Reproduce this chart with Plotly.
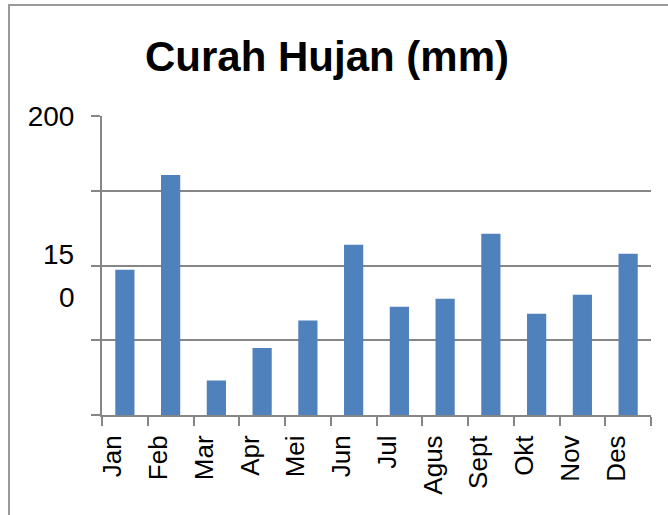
import plotly.graph_objects as go

months = ["Jan", "Feb", "Mar", "Apr", "Mei", "Jun", "Jul", "Agus", "Sept", "Okt", "Nov", "Des"]
rainfall = [148.6, 180.3, 111.5, 122.4, 131.6, 156.9, 136.2, 138.9, 160.6, 133.9, 140.2, 153.9]
y_tickvals = [100, 125, 150, 175, 200]
y_ticktext = ["", "", "", "", "200"]
wrapped_label_parts = ["15", "0"]

W, H = 668, 515
L, R, T, B = 102, 17, 116, 100

fig = go.Figure(go.Bar(x=months, y=rainfall, marker_color="#4F81BD", marker_line_width=0))

pw = W - L - R
ph = H - T - B

annotations = [
    dict(text=wrapped_label_parts[0], xref="paper", yref="paper", x=(76 - L) / pw, xanchor="right",
         y=(H - B - 254) / ph, yanchor="middle", showarrow=False, font=dict(size=28)),
    dict(text=wrapped_label_parts[1], xref="paper", yref="paper", x=(77 - L) / pw, xanchor="right",
         y=(H - B - 297) / ph, yanchor="middle", showarrow=False, font=dict(size=28)),
]

fig.update_layout(
    width=W, height=H,
    margin=dict(l=L, r=R, t=T, b=B, autoexpand=False),
    paper_bgcolor="white", plot_bgcolor="white",
    bargap=0.58,
    showlegend=False,
    font=dict(family="Liberation Sans", color="black"),
    title=dict(text="<b>Curah Hujan (mm)</b>", x=327 / W, xanchor="center",
               y=1 - 56 / H, yanchor="middle", font=dict(size=42, family="Liberation Sans")),
    xaxis=dict(type="category", tickson="boundaries", ticks="outside", ticklen=9,
               tickcolor="#868686", tickwidth=2, showline=True, linecolor="#868686", linewidth=2,
               tickangle=-90, tickfont=dict(size=26), showgrid=False, ticklabelstandoff=8,
               ticklabelshift=-12),
    yaxis=dict(range=[100, 200], tickvals=y_tickvals, ticktext=y_ticktext, ticks="outside",
               ticklen=9, tickcolor="#868686", tickwidth=2, showline=True, linecolor="#868686",
               linewidth=2, showgrid=True, gridcolor="#868686", gridwidth=2,
               tickfont=dict(size=28), ticklabelstandoff=11, zeroline=False),
    annotations=annotations,
    shapes=[dict(type="rect", xref="paper", yref="paper",
                 x0=(9 - L) / pw, x1=(W + 20 - L) / pw,
                 y0=(H - B - (H + 20)) / ph, y1=(H - B - 5) / ph,
                 line=dict(color="#9a9a9a", width=2), fillcolor="rgba(0,0,0,0)", layer="below")],
)

fig.write_html("out.html", config={"displayModeBar": False},
               post_script="document.body.style.margin='0';")
